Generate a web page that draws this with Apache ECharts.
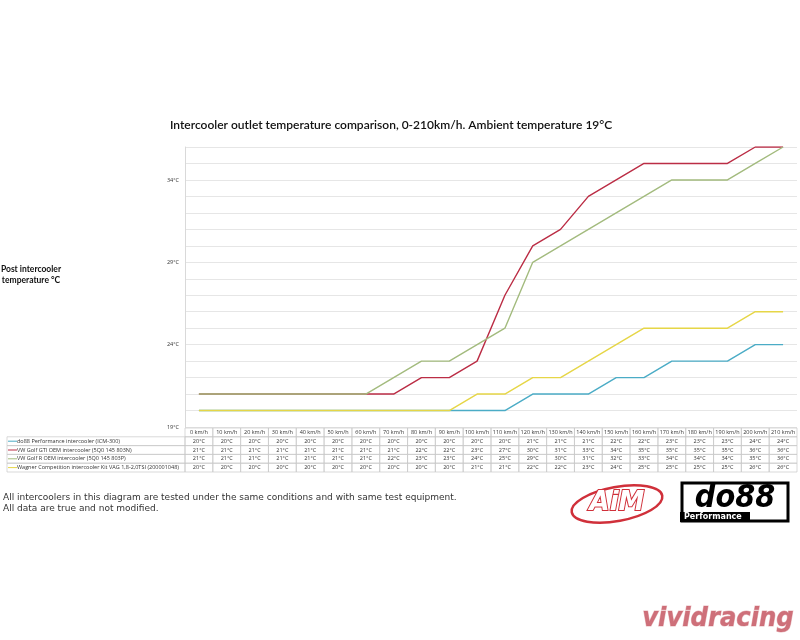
<!DOCTYPE html>
<html><head><meta charset="utf-8">
<script src="https://cdn.jsdelivr.net/npm/echarts@6/dist/echarts.min.js"></script>
<style>html,body{margin:0;padding:0;background:#fff}#c{width:800px;height:640px}</style>
</head><body><div id="c"></div>
<script>
const speeds = ['0 km/h','10 km/h','20 km/h','30 km/h','40 km/h','50 km/h','60 km/h','70 km/h','80 km/h','90 km/h','100 km/h','110 km/h','120 km/h','130 km/h','140 km/h','150 km/h','160 km/h','170 km/h','180 km/h','190 km/h','200 km/h','210 km/h'];
const do88 = [20,20,20,20,20,20,20,20,20,20,20,20,21,21,21,22,22,23,23,23,24,24];
const gti = [21,21,21,21,21,21,21,21,22,22,23,27,30,31,33,34,35,35,35,35,36,36];
const golfR = [21,21,21,21,21,21,21,22,23,23,24,25,29,30,31,32,33,34,34,34,35,36];
const wagner = [20,20,20,20,20,20,20,20,20,20,21,21,22,22,23,24,25,25,25,25,26,26];
const seriesNames = ['do88 Performance intercooler (ICM-300)','VW Golf GTI OEM intercooler (5Q0 145 803N)','VW Golf R OEM intercooler (5Q0 145 803P)','Wagner Competition intercooler Kit VAG 1,8-2,0TSI (200001048)'];
const seriesValues = [do88, gti, golfR, wagner];
const colors = ['#4bacc6','#bb2d45','#a3bb7e','#e6d647'];
const majorTicks = [19,24,29,34];

const chart = echarts.init(document.getElementById('c'), null, {renderer:'canvas'});
const tableFont = 'Open Sans, DejaVu Sans, sans-serif';

// table data: header row + value rows
const tableData = [];
speeds.forEach((s,c)=>{ tableData.push([c,0,s]); });
seriesValues.forEach((vals,r)=>{ vals.forEach((v,c)=>tableData.push([c,r+1,v+'°C'])); });
const legendData = seriesNames.map((n,r)=>[0,r+1,n,r]);
const LEG_W = 178;

const option = {
  animation:false,
  backgroundColor:'#fff',
  grid:[
    {left:185,right:3,top:147,height:280,containLabel:false},
    {left:185,right:3,top:428,height:44,containLabel:false}
  ],
  xAxis:[
    {type:'category',data:speeds,boundaryGap:true,gridIndex:0,
     axisLine:{show:false},axisTick:{show:false},axisLabel:{show:false}},
    {type:'category',data:speeds,boundaryGap:true,gridIndex:1,show:false}
  ],
  yAxis:[
    {type:'value',gridIndex:0,min:19,max:36,interval:1,
     axisLine:{show:true,lineStyle:{color:'#d9d9d9'}},
     axisTick:{show:false},
     splitLine:{lineStyle:{color:'#e6e6e6',width:1}},
     axisLabel:{fontSize:5.5,color:'#333',fontFamily:tableFont,margin:6,
       formatter:v=> majorTicks.indexOf(v)>=0 ? v+'°C' : ''}},
    {type:'category',gridIndex:1,data:['h'].concat(seriesNames),inverse:true,show:false}
  ],
  series: seriesValues.map((vals,i)=>({
    type:'line',name:seriesNames[i],data:vals,xAxisIndex:0,yAxisIndex:0,
    showSymbol:false,symbol:'none',lineStyle:{color:colors[i],width:1.4},itemStyle:{color:colors[i]},z:2+i
  })).concat([
    {type:'custom',xAxisIndex:1,yAxisIndex:1,data:tableData,silent:true,
     renderItem:(params,api)=>{
       const c = api.coord([api.value(0),api.value(1)]);
       const sz = api.size([1,1]);
       const txt = tableData[params.dataIndex][2];
       return {type:'group',children:[
         {type:'rect',shape:{x:c[0]-sz[0]/2,y:c[1]-sz[1]/2,width:sz[0],height:sz[1]},
          style:{fill:'none',stroke:'#c8c8c8',lineWidth:0.7}},
         {type:'text',style:{text:txt,x:c[0],y:c[1],align:'center',verticalAlign:'middle',
          font:'5.5px '+tableFont,fill:'#333'}}
       ]};
     }},
    {type:'custom',xAxisIndex:1,yAxisIndex:1,data:legendData,silent:true,
     renderItem:(params,api)=>{
       const c = api.coord([0,api.value(1)]);
       const sz = api.size([1,1]);
       const d = legendData[params.dataIndex];
       const x0 = params.coordSys.x - LEG_W;
       return {type:'group',children:[
         {type:'rect',shape:{x:x0,y:c[1]-sz[1]/2,width:LEG_W,height:sz[1]},
          style:{fill:'none',stroke:'#c8c8c8',lineWidth:0.7}},
         {type:'line',shape:{x1:x0+1,y1:c[1],x2:x0+10,y2:c[1]},style:{stroke:colors[d[3]],lineWidth:1}},
         {type:'text',style:{text:d[2],x:x0+10,y:c[1],align:'left',verticalAlign:'middle',
          font:'5.5px '+tableFont,fill:'#333'}}
       ]};
     }}
  ]),
  graphic:[
    {type:'text',left:170,top:119,style:{text:'Intercooler outlet temperature comparison, 0-210km/h. Ambient temperature 19°C',
      font:'600 12px Lato, Open Sans, sans-serif',fill:'#111'}},
    {type:'text',x:31,y:275,style:{text:'Post intercooler\ntemperature °C',align:'center',verticalAlign:'middle',
      font:'bold 8.5px Lato, sans-serif',fill:'#111',lineHeight:11}},
    {type:'text',x:3,y:492,style:{text:'All intercoolers in this diagram are tested under the same conditions and with same test equipment.\nAll data are true and not modified.',
      font:'9px DejaVu Sans, sans-serif',fill:'#333',lineHeight:11}},
    // AiM logo
    {type:'ellipse',shape:{cx:617,cy:504,rx:46,ry:17},rotation:0.18,originX:617,originY:504,style:{fill:'none',stroke:'#d0303a',lineWidth:2.5}},
    {type:'text',x:617,y:503,style:{text:'AiM',align:'center',verticalAlign:'middle',font:'italic 900 26px DejaVu Sans, sans-serif',fill:'#fff',stroke:'#d0303a',lineWidth:2}},
    // do88 logo
    {type:'rect',shape:{x:682,y:483,width:106,height:38},style:{fill:'#fff',stroke:'#000',lineWidth:3}},
    {type:'text',x:735,y:499,style:{text:'do88',align:'center',verticalAlign:'middle',font:'italic 900 32px DejaVu Sans Condensed, DejaVu Sans, sans-serif',fill:'#000'}},
    {type:'rect',shape:{x:680,y:512,width:70,height:10},style:{fill:'#000'}},
    {type:'text',x:684,y:517,style:{text:'Performance',verticalAlign:'middle',font:'bold 8px DejaVu Sans, sans-serif',fill:'#fff'}},
    // watermark
    {type:'text',x:718,y:619,style:{text:'vividracing',align:'center',verticalAlign:'middle',
      font:'italic 900 27px DejaVu Sans Condensed, DejaVu Sans, sans-serif',fill:'#c9606c',stroke:'#e8b8bc',lineWidth:1,opacity:0.9}}
  ]
};
chart.setOption(option);
</script></body></html>
